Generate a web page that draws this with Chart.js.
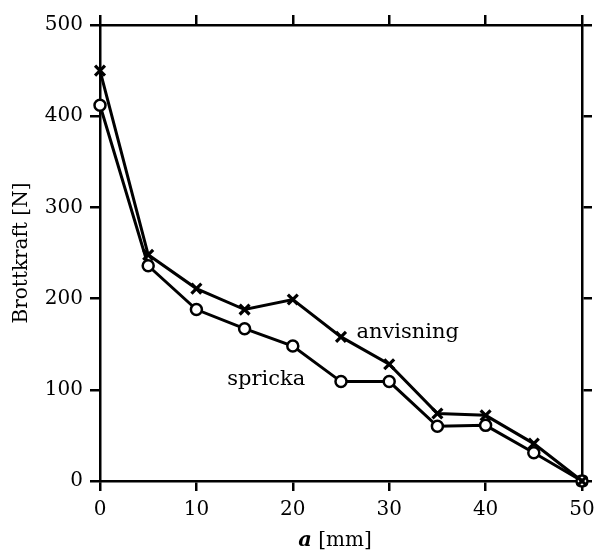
<!DOCTYPE html>
<html>
<head>
<meta charset="utf-8">
<script src="https://cdn.jsdelivr.net/npm/chart.js@4"></script>
<style>
  html, body { margin: 0; padding: 0; background: #fff; }
  #wrap { width: 595px; height: 551px; position: relative; }
</style>
</head>
<body>
<div id="wrap"><canvas id="grafico"></canvas></div>
<script>
// Datos
const aValues = [0, 5, 10, 15, 20, 25, 30, 35, 40, 45, 50];
const anvisning = [450, 248, 211, 188, 199, 158, 128, 74, 72, 41, 0];
const spricka = [412, 236, 188, 167, 148, 109, 109, 60, 61, 31, 0];
const xTicks = [0, 10, 20, 30, 40, 50];
const yTicks = [0, 100, 200, 300, 400, 500];

const serif = "'DejaVu Serif', 'Liberation Serif', serif";

// Etiquetas dentro del gráfico (posición en unidades de datos)
const labels = [
    { text: 'anvisning', x: 26.6, y: 157 },
    { text: 'spricka', x: 13.2, y: 105 }
];

const toPoints = vals => vals.map((v, i) => ({ x: aValues[i], y: v }));

// Plugin para dibujar las etiquetas y el título del eje x
const textPlugin = {
    id: 'textos',
    afterDatasetsDraw(chart) {
        const { ctx, scales } = chart;
        ctx.save();
        ctx.fillStyle = '#000';
        ctx.textBaseline = 'alphabetic';
        ctx.textAlign = 'left';
        ctx.font = '21px ' + serif;
        labels.forEach(l => {
            ctx.fillText(l.text, scales.x.getPixelForValue(l.x), scales.y.getPixelForValue(l.y));
        });
        // título del eje x: "a" en negrita cursiva
        const a = 'a', rest = ' [mm]';
        ctx.font = 'bold italic 21px ' + serif;
        const wa = ctx.measureText(a).width;
        ctx.font = '20px ' + serif;
        const wr = ctx.measureText(rest).width;
        const x0 = 335 - (wa + wr) / 2;
        const yb = 546;
        ctx.font = 'bold italic 21px ' + serif;
        ctx.fillText(a, x0, yb);
        ctx.font = '20px ' + serif;
        ctx.fillText(rest, x0 + wa, yb);
        ctx.restore();
    }
};

const gridCfg = {
    drawOnChartArea: false,
    drawTicks: true,
    tickLength: 10,
    color: '#000',
    lineWidth: 2.5
};
const borderCfg = { display: true, color: '#000', width: 2.5 };
const fixedTicks = list => axis => { axis.ticks = list.map(v => ({ value: v })); };

new Chart(document.getElementById('grafico').getContext('2d'), {
    type: 'line',
    data: {
        datasets: [{
            label: 'anvisning',
            data: toPoints(anvisning),
            borderColor: '#000',
            borderWidth: 3,
            pointStyle: 'crossRot',
            pointRadius: 7,
            pointBorderWidth: 3.2,
            pointBorderColor: '#000',
            pointBackgroundColor: '#000',
            clip: false
        }, {
            label: 'spricka',
            data: toPoints(spricka),
            borderColor: '#000',
            borderWidth: 3,
            pointStyle: 'circle',
            pointRadius: 5.5,
            pointBorderWidth: 2.5,
            pointBorderColor: '#000',
            pointBackgroundColor: '#fff',
            clip: false
        }]
    },
    options: {
        responsive: true,
        maintainAspectRatio: false,
        animation: false,
        layout: { padding: 0 },
        plugins: { legend: { display: false }, tooltip: { enabled: false } },
        scales: {
            x: {
                type: 'linear', position: 'bottom', min: 0, max: 50,
                afterBuildTicks: fixedTicks(xTicks),
                afterFit: s => { s.height = 70; s.paddingLeft = 0; s.paddingRight = 0; },
                grid: gridCfg, border: borderCfg,
                ticks: { color: '#000', padding: 7, font: { family: serif, size: 20 } }
            },
            x2: {
                type: 'linear', position: 'top', min: 0, max: 50,
                afterBuildTicks: fixedTicks(xTicks),
                afterFit: s => { s.height = 25; s.paddingLeft = 0; s.paddingRight = 0; },
                grid: gridCfg, border: borderCfg,
                ticks: { display: false }
            },
            y: {
                type: 'linear', position: 'left', min: 0, max: 500,
                afterBuildTicks: fixedTicks(yTicks),
                afterFit: s => { s.width = 100; s.paddingTop = 0; s.paddingBottom = 0; },
                grid: gridCfg, border: borderCfg,
                ticks: { color: '#000', padding: 7, font: { family: serif, size: 20 } },
                title: {
                    display: true, text: 'Brottkraft [N]', color: '#000',
                    font: { family: serif, size: 20 }, padding: { top: 10, bottom: 0 }
                }
            },
            y2: {
                type: 'linear', position: 'right', min: 0, max: 500,
                afterBuildTicks: fixedTicks(yTicks),
                afterFit: s => { s.width = 13; s.paddingTop = 0; s.paddingBottom = 0; },
                grid: gridCfg, border: borderCfg,
                ticks: { display: false }
            }
        }
    },
    plugins: [textPlugin]
});
</script>
</body>
</html>
